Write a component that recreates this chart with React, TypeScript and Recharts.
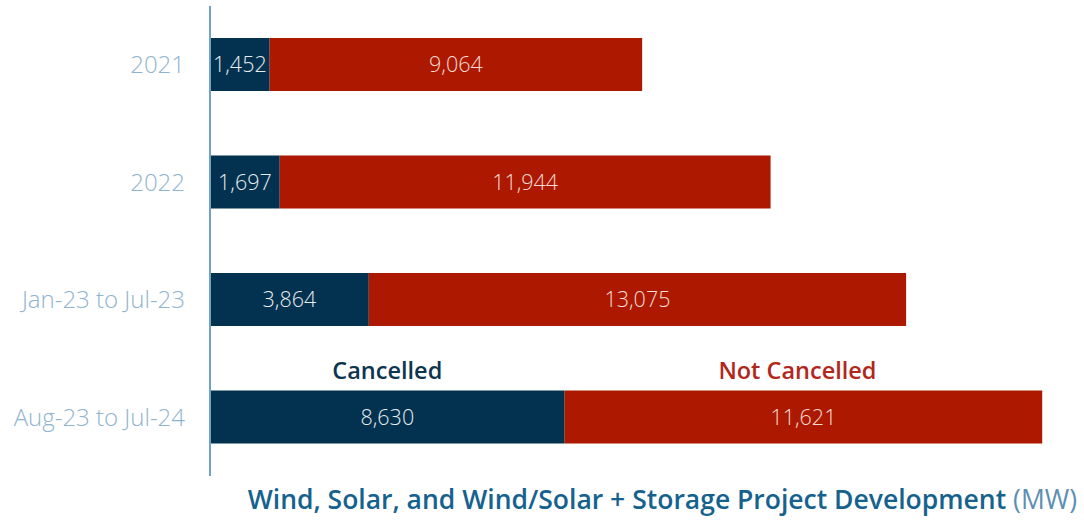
import { Bar, BarChart, LabelList, XAxis, YAxis } from "recharts";

const periods = ["2021", "2022", "Jan-23 to Jul-23", "Aug-23 to Jul-24"];
const cancelled = [1452, 1697, 3864, 8630];
const notCancelled = [9064, 11944, 13075, 11621];

const data = periods.map((period, i) => ({
  period,
  cancelled: cancelled[i],
  notCancelled: notCancelled[i],
}));

const NAVY = "#02324f";
const RED = "#ad1900";
const FONT = "'Open Sans', sans-serif";

const fmt = (v: number) => v.toLocaleString("en-US");

// series name drawn above the last bar only, in place of a legend
function seriesTag(name: string, color: string, dx = 0) {
  return (props: any) => {
    const { x, y, width, index } = props;
    if (index !== periods.length - 1) return null;
    return (
      <text
        x={x + width / 2 + dx}
        y={y - 12}
        textAnchor="middle"
        fill={color}
        fontFamily={FONT}
        fontSize={23.5}
        fontWeight={600}
      >
        {name}
      </text>
    );
  };
}

export default function App() {
  return (
    <div style={{ position: "absolute", left: 0, top: 0, width: 1084, height: 520, background: "#fff" }}>
      <BarChart
        width={1084}
        height={520}
        data={data}
        layout="vertical"
        barSize={53}
        margin={{ top: 6, right: 11, bottom: 44, left: 0 }}
      >
        <XAxis type="number" domain={[0, 21000]} hide />
        <YAxis
          type="category"
          dataKey="period"
          width={210}
          axisLine={{ stroke: "#6fa2c6", strokeWidth: 2 }}
          tickLine={false}
          tickSize={0}
          tickMargin={25}
          tick={{ fill: "#8fb4cf", fontSize: 24, fontFamily: FONT, fontWeight: 300 }}
        />
        <Bar dataKey="cancelled" stackId="a" fill={NAVY} isAnimationActive={false}>
          <LabelList
            dataKey="cancelled"
            position="center"
            formatter={(v: any) => fmt(Number(v))}
            style={{ fill: "#e6ecf0", fontSize: 21.5, fontFamily: FONT, fontWeight: 300 }}
          />
          <LabelList dataKey="cancelled" content={seriesTag("Cancelled", "#0e3550")} />
        </Bar>
        <Bar dataKey="notCancelled" stackId="a" fill={RED} isAnimationActive={false}>
          <LabelList
            dataKey="notCancelled"
            position="center"
            formatter={(v: any) => fmt(Number(v))}
            style={{ fill: "#f3dcd6", fontSize: 21.5, fontFamily: FONT, fontWeight: 300 }}
          />
          <LabelList dataKey="notCancelled" content={seriesTag("Not Cancelled", "#b3261b", -6)} />
        </Bar>
      </BarChart>
      <div
        style={{
          position: "absolute",
          right: 7,
          top: 481,
          fontFamily: FONT,
          fontSize: 26.5,
          color: "#16628f",
          whiteSpace: "nowrap",
        }}
      >
        <span style={{ fontWeight: 600 }}>Wind, Solar, and Wind/Solar + Storage Project Development</span>{" "}
        <span style={{ fontWeight: 400, color: "#5d8fb5" }}>(MW)</span>
      </div>
    </div>
  );
}
